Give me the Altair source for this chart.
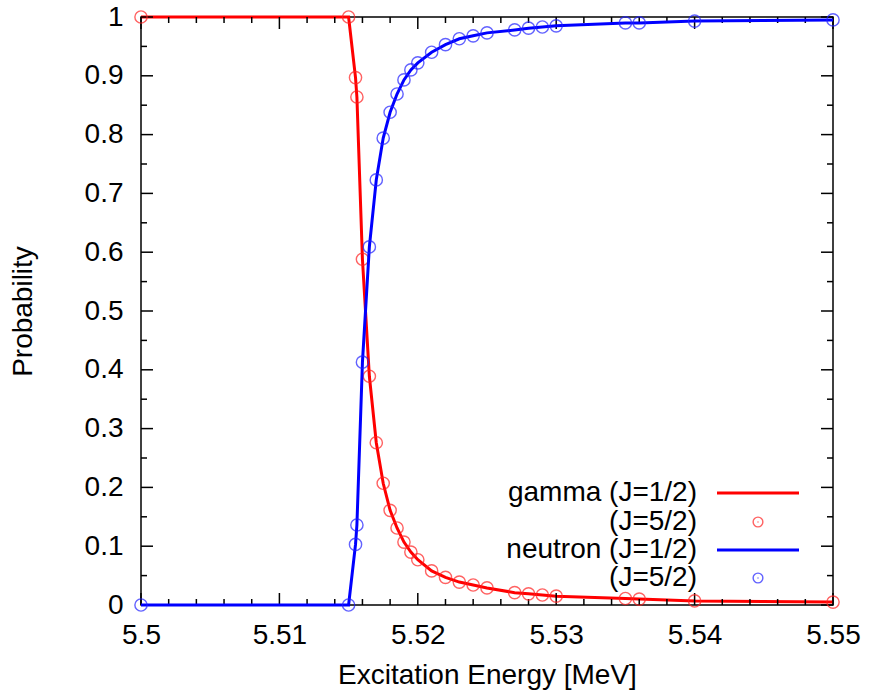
import altair as alt
import pandas as pd

# ---- data ----
energy = [5.5, 5.515, 5.5155, 5.5156, 5.516, 5.5165, 5.517, 5.5175, 5.518, 5.5185,
          5.519, 5.5195, 5.52, 5.521, 5.522, 5.523, 5.524, 5.525, 5.527, 5.528,
          5.529, 5.53, 5.535, 5.536, 5.54, 5.55]
gamma = [1.0, 1.0, 0.897, 0.864, 0.588, 0.389, 0.276, 0.207, 0.161, 0.131,
         0.107, 0.090, 0.077, 0.058, 0.047, 0.039, 0.034, 0.029, 0.021, 0.019,
         0.017, 0.015, 0.011, 0.010, 0.007, 0.005]
neutron = [0.0, 0.0, 0.103, 0.136, 0.413, 0.609, 0.723, 0.794, 0.838, 0.869,
           0.893, 0.910, 0.922, 0.940, 0.953, 0.963, 0.968, 0.973, 0.978, 0.981,
           0.983, 0.985, 0.990, 0.990, 0.993, 0.995]

x_major = [5.5, 5.51, 5.52, 5.53, 5.54, 5.55]
x_minor = [5.502, 5.504, 5.506, 5.508, 5.512, 5.514, 5.516, 5.518, 5.522, 5.524,
           5.526, 5.528, 5.532, 5.534, 5.536, 5.538, 5.542, 5.544, 5.546, 5.548]
y_major = [0, 0.1, 0.2, 0.3, 0.4, 0.5, 0.6, 0.7, 0.8, 0.9, 1.0]
y_minor = [0.05, 0.15, 0.25, 0.35, 0.45, 0.55, 0.65, 0.75, 0.85, 0.95]

legend_labels = ["gamma (J=1/2)", "(J=5/2)", "neutron (J=1/2)", "(J=5/2)"]

W, H = 692, 588
FONT = "Liberation Sans"
FS = 28

df = pd.DataFrame({"x": energy, "gamma": gamma, "neutron": neutron})

xs = alt.Scale(domain=[5.5, 5.55], nice=False, zero=False)
ys = alt.Scale(domain=[0, 1], nice=False, zero=False)

xaxis = alt.Axis(values=x_major, format=".3~g", title="Excitation Energy [MeV]",
                 domain=False, ticks=False, grid=False, labelFont=FONT, labelFontSize=FS,
                 titleFont=FONT, titleFontSize=FS, titleFontWeight="normal",
                 labelColor="black", titleColor="black", labelPadding=16, titlePadding=12,
                 labelFlush=False)
yaxis = alt.Axis(values=y_major, format="~g", title="Probability",
                 domain=False, ticks=False, grid=False, labelFont=FONT, labelFontSize=FS,
                 titleFont=FONT, titleFontSize=FS, titleFontWeight="normal",
                 labelColor="black", titleColor="black", labelPadding=18, titlePadding=47,
                 labelFlush=False)

def X(field):
    return alt.X(field, scale=xs, axis=xaxis)

def Y(field):
    return alt.Y(field, scale=ys, axis=yaxis)

base = alt.Chart(df)

g_line = base.mark_line(color="#ff0000", strokeWidth=3).encode(x=X("x:Q"), y=Y("gamma:Q"))
g_pts = base.mark_point(shape="circle", color="#ff2020", size=150, strokeWidth=1.4,
                        filled=False).encode(x=X("x:Q"), y=Y("gamma:Q"))
n_line = base.mark_line(color="#0000ff", strokeWidth=3).encode(x=X("x:Q"), y=Y("neutron:Q"))
n_pts = base.mark_point(shape="circle", color="#2020ff", size=150, strokeWidth=1.4,
                        filled=False).encode(x=X("x:Q"), y=Y("neutron:Q"))

# ---- inward ticks on all four sides ----
def xticks(vals, length):
    d = alt.Chart(pd.DataFrame({"t": vals}))
    bot = d.mark_rule(color="black", strokeWidth=1.5).encode(
        x=X("t:Q"), y=alt.value(H), y2=alt.value(H - length))
    top = d.mark_rule(color="black", strokeWidth=1.5).encode(
        x=X("t:Q"), y=alt.value(0), y2=alt.value(length))
    return [bot, top]

def yticks(vals, length):
    d = alt.Chart(pd.DataFrame({"t": vals}))
    left = d.mark_rule(color="black", strokeWidth=1.5).encode(
        y=Y("t:Q"), x=alt.value(0), x2=alt.value(length))
    right = d.mark_rule(color="black", strokeWidth=1.5).encode(
        y=Y("t:Q"), x=alt.value(W), x2=alt.value(W - length))
    return [left, right]

ticks = xticks(x_major, 12) + xticks(x_minor, 6) + yticks(y_major, 12) + yticks(y_minor, 6)

# ---- manual legend (gnuplot style: label on left, sample on right) ----
row_y = [476, 505, 533, 561]
one = pd.DataFrame({"k": [0]})
legend = []
for lab, ry in zip(legend_labels, row_y):
    legend.append(alt.Chart(one).mark_text(text=lab, align="right", baseline="middle",
                                           font=FONT, fontSize=FS, color="black").encode(
        x=alt.value(556), y=alt.value(ry)))
legend.append(alt.Chart(one).mark_rule(color="#ff0000", strokeWidth=3).encode(
    x=alt.value(576), x2=alt.value(658), y=alt.value(row_y[0])))
legend.append(alt.Chart(one).mark_rule(color="#0000ff", strokeWidth=3).encode(
    x=alt.value(576), x2=alt.value(658), y=alt.value(row_y[2])))
for col, ry in [("#ff2020", row_y[1]), ("#2020ff", row_y[3])]:
    legend.append(alt.Chart(one).mark_point(shape="circle", color=col, size=95,
                                            strokeWidth=1.4).encode(
        x=alt.value(617), y=alt.value(ry)))
    legend.append(alt.Chart(one).mark_point(shape="circle", color=col, size=2,
                                            filled=True).encode(
        x=alt.value(617), y=alt.value(ry)))

chart = alt.layer(
    g_line, *ticks, g_pts, n_line, n_pts, *legend,
).properties(
    width=W, height=H,
    autosize=alt.AutoSizeParams(type="none"),
    padding={"left": 141, "top": 17, "right": 36, "bottom": 88},
    background="white",
).configure_view(stroke="black", strokeWidth=1.5).configure_axis(grid=False)

chart.save("out.html", embed_options={"renderer": "svg", "actions": False})
